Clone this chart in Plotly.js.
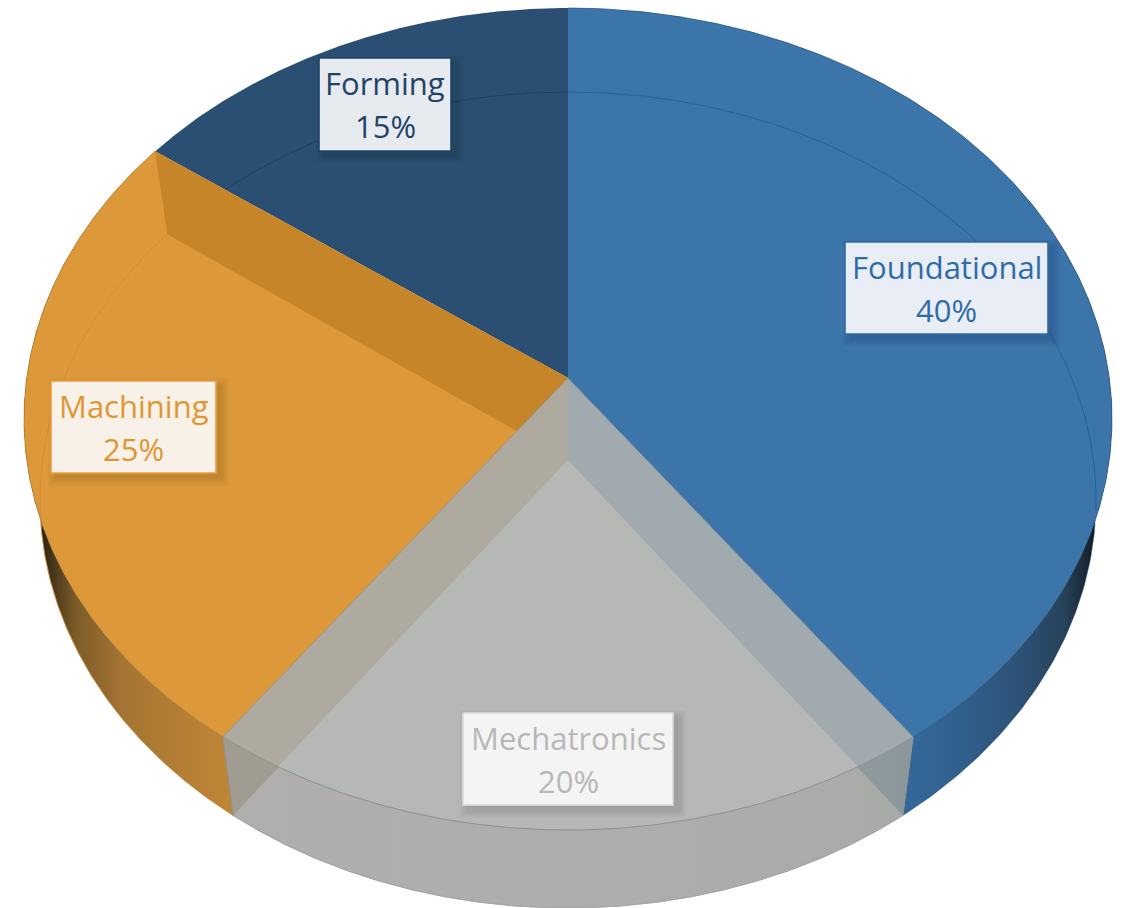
<!DOCTYPE html>
<html>
<head>
<meta charset="utf-8">
<script src="https://cdn.plot.ly/plotly-3.0.1.min.js"></script>
<style>html,body{margin:0;padding:0;background:#fff;overflow:hidden}#chart{width:1126px;height:908px}</style>
</head>
<body>
<div id="chart"></div>
<script>
// ---- data (clockwise from 12 o'clock) ----
const categories = ["Foundational", "Mechatronics", "Machining", "Forming"];
const shares = [40, 20, 25, 15];

// ---- styles ----
const faceColors = ["#3b75aa", "#b5b8b5", "#dc9839", "#2b4f72"];
const textColors = ["#2f6ca8", "#b7b8b7", "#e19636", "#1f4468"];
const boxFill = ["#e9eef6", "#f4f4f4", "#f8f1e8", "#e7eaee"];
const boxLine = ["#2f6aa4", "#dadcda", "#e59c3f", "#1d4468"];
const boxCenter = [[946.5, 288], [568, 759], [133.5, 427], [385, 104.5]];
const boxSize = [[203, 92], [210, 92], [165, 92], [132, 93]];
const FONT = "Open Sans";
const FONT_SIZE = 31;

// ---- projection of the tilted disc ----
const topDisc = {cx: 568, cy: 419, rx: 544, ry: 411, ax: 568, ay: 378};
const lowDisc = {cx: 568, cy: 500, rx: 528, ry: 408, ax: 568, ay: 460};
function rim(d, f) {
  const th = 2 * Math.PI * f, t = th - 0.1 * Math.sin(th);
  return [d.cx + d.rx * Math.sin(t), d.cy - d.ry * Math.cos(t)];
}
function arc(d, f0, f1) {
  const n = 240, out = [];
  for (let i = 0; i <= n; i++) out.push(rim(d, f0 + (f1 - f0) * i / n));
  return out;
}
const apex = d => [d.ax, d.ay];
const total = shares.reduce((a, b) => a + b, 0);
const edges = [0];
shares.forEach(s => edges.push(edges[edges.length - 1] + s / total));

const traces = [];
function poly(pts, fill, line, width, gradient) {
  const tr = {
    type: "scatter", mode: "lines", hoverinfo: "skip", showlegend: false,
    x: pts.map(p => p[0]).concat(fill || gradient ? [pts[0][0]] : []),
    y: pts.map(p => p[1]).concat(fill || gradient ? [pts[0][1]] : []),
    line: {color: line || "rgba(0,0,0,0)", width: line ? (width || 0.8) : 0}
  };
  if (gradient) { tr.fill = "toself"; tr.fillgradient = gradient; }
  else if (fill) { tr.fill = "toself"; tr.fillcolor = fill; }
  traces.push(tr);
}
const wedge = (d, i) => [apex(d)].concat(arc(d, edges[i], edges[i + 1]));
const wall = (i) => arc(topDisc, edges[i], edges[i + 1]).concat(arc(lowDisc, edges[i], edges[i + 1]).reverse());
const cut = f => [apex(topDisc), rim(topDisc, f), rim(lowDisc, f), apex(lowDisc)];

function hgrad(x0, x1, stops) {
  return {type: "horizontal", start: x0, stop: x1, colorscale: stops};
}

// 1. outer walls
poly(wall(0), null, "rgba(35,70,105,0.6)", 0.6, hgrad(905, 1100, [[0, "#35689a"], [0.3, "#315f8c"], [0.6, "#2d5175"], [0.82, "#264159"], [1, "#10171d"]]));
poly(wall(2), null, "rgba(130,90,40,0.6)", 0.6, hgrad(36, 232, [[0, "#1e1810"], [0.07, "#3f3119"], [0.2, "#7d5b29"], [0.45, "#a57533"], [1, "#c08636"]]));
poly(wall(1), null, "#9a9c9a", 0.7, hgrad(232, 905, [[0, "#b0aeae"], [0.5, "#adafac"], [1, "#a9aba8"]]));

// 2. back and side faces, with the far rim showing through
poly(wedge(topDisc, 3), faceColors[3]);
poly(arc(lowDisc, edges[3], edges[4]), null, "rgba(28,58,90,0.9)", 0.9);
poly(wedge(topDisc, 0), faceColors[0]);
poly(arc(lowDisc, edges[0], edges[0] + 0.27), null, "rgba(40,90,140,0.9)", 0.9);
poly(wedge(topDisc, 2), faceColors[2]);
poly(arc(lowDisc, edges[2], edges[3]), null, "rgba(205,140,50,0.9)", 0.9);
poly(cut(edges[3]), "#c68529");

// 3. the translucent slice: lower parts of its cut faces, then its face, then upper parts
poly(cut(edges[2]), "#a09c91");
poly(cut(edges[1]), null, null, 0, hgrad(568, 905, [[0, "#a3adb2"], [1, "#8c979c"]]));
poly(wedge(topDisc, 1), faceColors[1]);

function clippedBand(f, fTowards) {
  const a = apex(lowDisc), b = rim(lowDisc, f), p0 = rim(topDisc, f);
  const side = p => (b[0] - a[0]) * (p[1] - a[1]) - (b[1] - a[1]) * (p[0] - a[0]);
  const s0 = side(p0), pts = [apex(topDisc)];
  for (const p of arc(topDisc, f, fTowards)) { if (side(p) * s0 < 0) break; pts.push(p); }
  pts.push(a);
  return pts;
}
const mid = (edges[1] + edges[2]) / 2;
poly(clippedBand(edges[2], mid), "#aeaa9f");
poly(clippedBand(edges[1], mid), "#a0aaaf");

// 4. fine edges
poly(arc(topDisc, edges[1], edges[2]), null, "#8f918f", 1);
poly(arc(lowDisc, edges[1], edges[2]), null, "#a2a4a2", 0.8);
poly(arc(topDisc, edges[0], edges[1]), null, "rgba(25,65,105,0.45)", 0.7);
poly(arc(topDisc, edges[2], edges[3]), null, "rgba(175,115,40,0.6)", 0.7);
poly([rim(topDisc, edges[1]), rim(lowDisc, edges[1])], null, "#8f9496", 0.8);
poly([rim(topDisc, edges[2]), rim(lowDisc, edges[2])], null, "#8f8d85", 0.8);
poly([apex(topDisc), rim(topDisc, edges[2])], null, "rgba(130,130,125,0.8)", 0.7);
poly([apex(topDisc), rim(topDisc, edges[1])], null, "rgba(60,90,115,0.7)", 0.7);

// ---- label boxes with a soft shadow ----
const shapes = [], annotations = [];
categories.forEach((name, i) => {
  const [cx, cy] = boxCenter[i], [w, h] = boxSize[i];
  const x0 = cx - w / 2, x1 = cx + w / 2, y0 = cy - h / 2, y1 = cy + h / 2;
  for (let k = 8; k >= 0; k--) {
    shapes.push({type: "rect", layer: "above", xref: "x", yref: "y", x0: x0 - k + 5, x1: x1 + k + 5, y0: y0 - k + 5, y1: y1 + k + 5,
      line: {width: 0}, fillcolor: "rgba(0,0,0,0.012)"});
  }
  shapes.push({type: "rect", layer: "above", xref: "x", yref: "y", x0, x1, y0, y1,
    line: {color: boxLine[i], width: 1.6}, fillcolor: boxFill[i]});
  const base = {xref: "x", yref: "y", x: cx, showarrow: false, xanchor: "center", yanchor: "middle",
    font: {family: FONT, size: FONT_SIZE, color: textColors[i]}};
  annotations.push(Object.assign({}, base, {y: cy - 21.5, text: name}));
  annotations.push(Object.assign({}, base, {y: cy + 21.5, text: shares[i] + "%"}));
});

const layout = {
  width: 1126, height: 908,
  margin: {l: 0, r: 0, t: 0, b: 0},
  paper_bgcolor: "#ffffff", plot_bgcolor: "#ffffff",
  showlegend: false,
  xaxis: {range: [0, 1126], visible: false, fixedrange: true},
  yaxis: {range: [908, 0], visible: false, fixedrange: true},
  shapes, annotations
};
Plotly.newPlot("chart", traces, layout, {displayModeBar: false, staticPlot: true});
</script>
</body>
</html>
